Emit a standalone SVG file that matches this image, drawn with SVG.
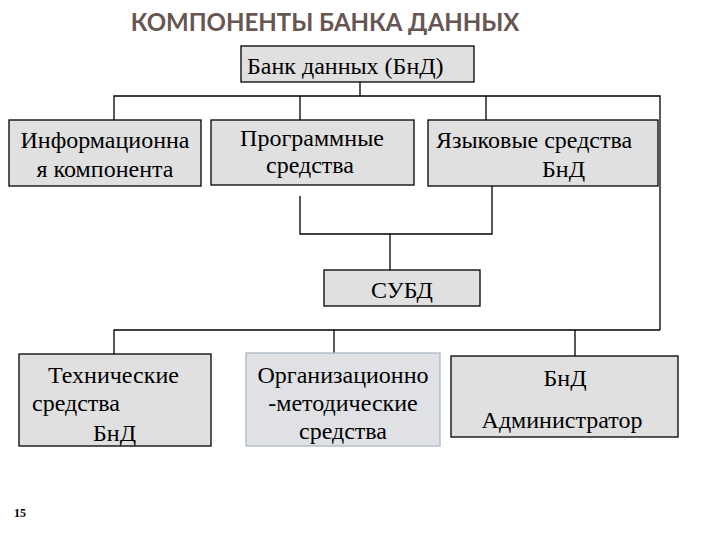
<svg xmlns="http://www.w3.org/2000/svg" width="720" height="540" viewBox="0 0 720 540">
<style>
.box{fill:#e0e0e0;stroke:#000;stroke-width:1.3}
.boxb{fill:#dfe1e4;stroke:#a9b8c6;stroke-width:1.3}
.t{font-family:"Liberation Serif","Times New Roman",serif;font-size:24px;fill:#000}
.c{text-anchor:middle}
.ln{fill:none;stroke:#000;stroke-width:1.3}
</style>
<rect width="720" height="540" fill="#fff"/>
<text x="325" y="31" text-anchor="middle" font-family="Lato, 'Open Sans', sans-serif" font-weight="bold" font-size="24" fill="#685652">КОМПОНЕНТЫ БАНКА ДАННЫХ</text>
<g id="connectors" class="ln">
<polyline points="360,82 360,96"/>
<polyline points="114,120 114,96 660,96 660,330"/>
<polyline points="300,96 300,120"/>
<polyline points="486,96 486,120"/>
<polyline points="300,196 300,234 492,234 492,186"/>
<polyline points="390,234 390,270"/>
<polyline points="114,354 114,330 660,330"/>
<polyline points="334,330 334,353"/>
<polyline points="575,330 575,356"/>
</g>
<g id="n-bank"><rect class="box" x="241" y="46" width="233" height="36"/><text class="t" x="247" y="74">Банк данных (БнД)</text></g>
<g id="n-info"><rect class="box" x="9" y="120" width="192" height="66"/><text class="t c" x="105" y="148">Информационна</text><text class="t c" x="105" y="177">я компонента</text></g>
<g id="n-prog"><rect class="box" x="211" y="120" width="203" height="65"/><text class="t c" x="312" y="146">Программные</text><text class="t c" x="310" y="173">средства</text></g>
<g id="n-lang"><rect class="box" x="428" y="120" width="230" height="66"/><text class="t" x="436" y="148">Языковые средства</text><text class="t" x="542" y="177">БнД</text></g>
<g id="n-subd"><rect class="box" x="324" y="270" width="156" height="36"/><text class="t c" x="402" y="298">СУБД</text></g>
<g id="n-tech"><rect class="box" x="19" y="354" width="192" height="92"/><text class="t" x="48" y="383">Технические</text><text class="t" x="32" y="411">средства</text><text class="t" x="93" y="441">БнД</text></g>
<g id="n-org"><rect class="boxb" x="246" y="353" width="194" height="93"/><text class="t c" x="343" y="383">Организационно</text><text class="t c" x="343" y="411">-методические</text><text class="t c" x="343" y="439">средства</text></g>
<g id="n-admin"><rect class="box" x="451" y="356" width="227" height="81"/><text class="t c" x="565" y="386">БнД</text><text class="t c" x="562" y="428">Администратор</text></g>
<text x="14" y="517" font-family="'Liberation Serif', serif" font-weight="bold" font-size="12" fill="#000">15</text>
</svg>
